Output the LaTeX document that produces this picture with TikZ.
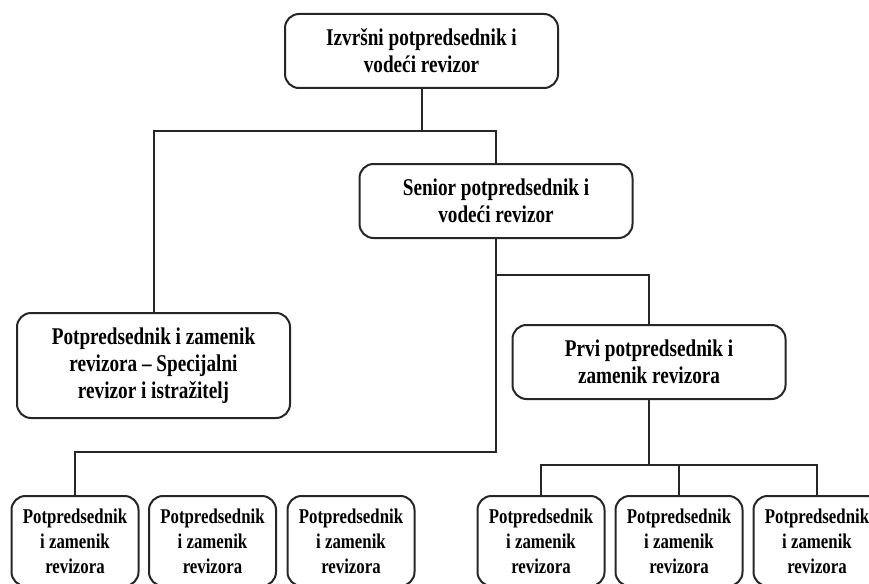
\documentclass[tikz,border=0pt]{standalone}
\usepackage{fontspec}
\setmainfont{Liberation Serif}[FakeStretch=0.8]
\begin{document}
\begin{tikzpicture}[x=1pt,y=-1pt,
  line/.style={draw=black!85,line width=2pt},
  unit/.style={line,fill=white,rounded corners=14pt,align=center,inner sep=0pt,
    font=\bfseries\fontsize{24}{27}\selectfont},
  bigbox/.style={unit,minimum width=273pt,minimum height=74pt},
  smallbox/.style={unit,minimum width=127pt,minimum height=90pt,
    font=\bfseries\fontsize{21}{25}\selectfont}]
\useasboundingbox (0,0) rectangle (869,583);
\fill[white] (0,0) rectangle (869,583);
\clip (0,0) rectangle (869,583);

% levels of the horizontal buses
\coordinate (busA) at (0,131);
\coordinate (busB) at (0,275);
\coordinate (busC) at (0,452);
\coordinate (busD) at (0,465);

% management boxes
\node[bigbox] (top) at (421.5,51) {Izvršni potpredsednik i\\vodeći revizor};
\node[bigbox] (sen) at (496,201) {Senior potpredsednik i\\vodeći revizor};
\node[bigbox,minimum height=105pt] (spec) at (153.5,365.5)
  {Potpredsednik i zamenik\\revizora – Specijalni\\revizor i istražitelj};
\node[bigbox] (prvi) at (649,362) {Prvi potpredsednik i\\zamenik revizora};

% deputy boxes
\foreach \n/\x in {b1/75,b2/212.5,b3/351,b4/541,b5/679,b6/817}
  \node[smallbox,anchor=north] (\n) at (\x,495)
    {Potpredsednik\\i zamenik\\revizora};

% connectors
\draw[line] (top.south) -- (top.south |- busA);
\draw[line] (spec.north) |- (sen.north |- busA) -- (sen.north);
\draw[line] (sen.south) -- (sen.south |- busC) -| (b1.north);
\draw[line] (sen.south |- busB) -| (prvi.north);
\draw[line] (prvi.south) -- (prvi.south |- busD);
\draw[line] (b4.north) |- (b6.north |- busD) -- (b6.north);
\draw[line] (b5.north) -- (b5.north |- busD);
\end{tikzpicture}
\end{document}
